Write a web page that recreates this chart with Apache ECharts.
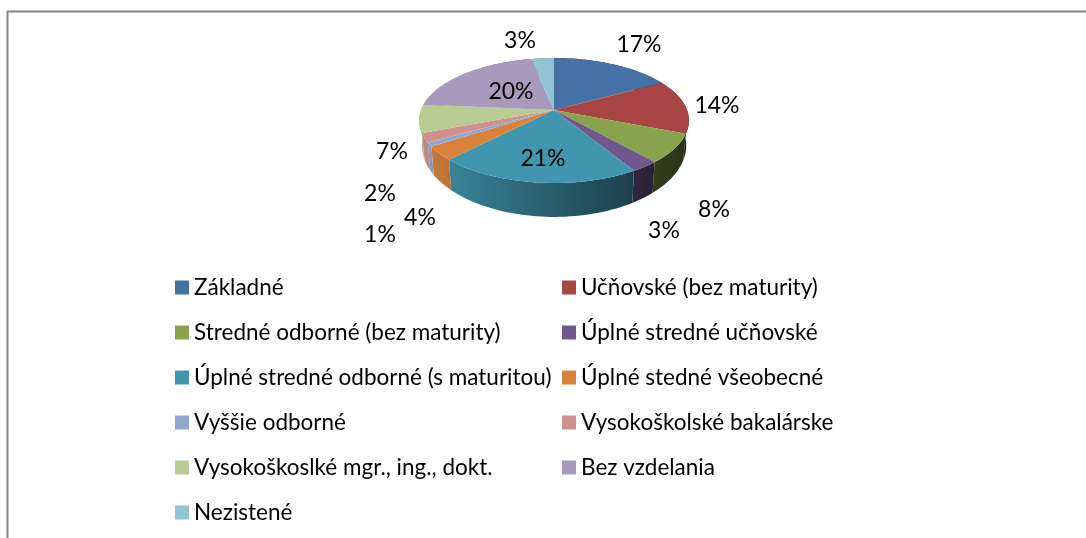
<!DOCTYPE html>
<html><head><meta charset="utf-8">
<style>html,body{margin:0;padding:0;background:#fff}#c{width:1086px;height:538px}</style>
<script src="https://cdn.jsdelivr.net/npm/echarts@6/dist/echarts.min.js"></script>
</head><body><div id="c"></div>
<script>
const categories = ['Základné','Učňovské (bez maturity)','Stredné odborné (bez maturity)','Úplné stredné učňovské','Úplné stredné odborné (s maturitou)','Úplné stedné všeobecné','Vyššie odborné','Vysokoškolské bakalárske','Vysokoškoslké mgr., ing., dokt.','Bez vzdelania','Nezistené'];
const percentages = [17,14,7.5,2.9,20.8,3.6,1,2.4,7.2,20.4,3.2];
const colors = ['#4571a6','#a94543','#87a44d','#70578e','#4096ae','#d9823b','#91a7ce','#cf9190','#b8cc94','#a89abc','#91c3d5'];
const labelCentres = [[639,45],[717,106],[714,210],[664,231],[543,159],[420,218],[380,235],[380,194],[392,152],[511,92],[520,41]];
const legendLeft = [0,2,4,6,8,10].map(i=>categories[i]);
const legendRight = [1,3,5,7,9].map(i=>categories[i]);

const FONT = 'Lato, Carlito, "Open Sans", sans-serif';
const APEX = [554,110], R = 133, A = 60.7, P = 0.168, DEPTH = 23.5, BOTTOM_X = 0.98;
const total = percentages.reduce((a,b)=>a+b,0);
const project = (frac, lower) => {
  const t = frac*2*Math.PI, x = Math.sin(t), y = -Math.cos(t), d = 1-P*y;
  const sx = R*x/d, sy = A*y/d;
  return lower ? [APEX[0]+sx*BOTTOM_X, APEX[1]+sy+DEPTH/(d*d)] : [APEX[0]+sx, APEX[1]+sy];
};
const shade = (hex,f)=>{const n=parseInt(hex.slice(1),16);return 'rgb('+[n>>16&255,n>>8&255,n&255].map(c=>Math.round(c*f)).join(',')+')';};
const sideFill = c => new echarts.graphic.LinearGradient(419,0,689,0,[{offset:0,color:shade(c,0.95)},{offset:0.5,color:shade(c,0.62)},{offset:1,color:shade(c,0.3)}],true);

const seriesList = categories.map((name,i)=>({
  type:'custom', name, coordinateSystem:'none', silent:true, animation:false,
  itemStyle:{color:colors[i]},
  data:[[percentages[i]]],
  renderItem:(params,api)=>{
    const before = percentages.slice(0,i).reduce((a,b)=>a+b,0);
    const f0 = before/total, f1 = (before+api.value(0))/total, steps = Math.max(4,Math.ceil((f1-f0)*200));
    const arc=[], low=[];
    for(let k=0;k<=steps;k++){const f=f0+(f1-f0)*k/steps;arc.push(project(f,false));low.push(project(f,true));}
    return {type:'group',children:[
      {type:'polygon',z2:1,shape:{points:arc.concat(low.slice().reverse())},style:{fill:sideFill(colors[i])}},
      {type:'polygon',z2:2,shape:{points:[APEX].concat(arc)},style:{fill:colors[i]}},
      {type:'text',z2:3,x:labelCentres[i][0],y:labelCentres[i][1],style:{text:Math.round(api.value(0))+'%',fill:'#000',font:'23px '+FONT,align:'center',verticalAlign:'middle'}}
    ]};
  }
}));
const legendBase = {orient:'vertical',icon:'rect',itemWidth:14,itemHeight:14,itemGap:22,selectedMode:false,padding:0,textStyle:{color:'#000',fontFamily:FONT,fontSize:22.5,width:400,height:22,lineHeight:22},inactiveColor:'#000'};
const chart = echarts.init(document.getElementById('c'),null,{renderer:'canvas'});
chart.setOption({
  animation:false, backgroundColor:'#fff',
  legend:[
    Object.assign({},legendBase,{left:175,top:276,height:260,data:legendLeft}),
    Object.assign({},legendBase,{left:562,top:276,height:260,data:legendRight})
  ],
  graphic:[{type:'polyline',silent:true,shape:{points:[[7.5,538],[7.5,11.5],[1086,11.5]]},style:{stroke:'#868686',lineWidth:2,fill:null}}],
  series:seriesList
});
</script></body></html>
